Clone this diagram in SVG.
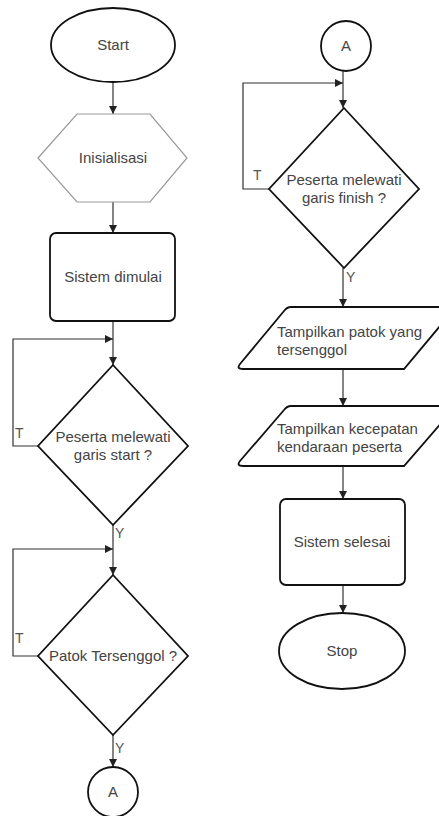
<svg xmlns="http://www.w3.org/2000/svg" width="439" height="816" viewBox="0 0 439 816">
<defs>
<marker id="ah" viewBox="0 0 10 10" refX="10" refY="5" markerWidth="8" markerHeight="8" markerUnits="userSpaceOnUse" orient="auto">
<path d="M0,0 L10,5 L0,10 Z" fill="#222"/>
</marker>
<style>
.sh{fill:#fff;stroke:#111;stroke-width:1.8}
.hx{fill:#fff;stroke:#999;stroke-width:1.2}
.t{font-family:"Liberation Sans",Arial,sans-serif;font-size:15px;fill:#444;text-anchor:middle}
.ts{text-anchor:start}
.lb{font-family:"Liberation Sans",Arial,sans-serif;font-size:14px;fill:#555}
.c{fill:none;stroke:#333;stroke-width:1.2;marker-end:url(#ah)}
</style>
</defs>
<rect width="439" height="816" fill="#fff"/>
<g id="connectors">
<path class="c" d="M113,82 L113,114"/>
<path class="c" d="M113,202 L113,233"/>
<path class="c" d="M113,321 L113,365"/>
<path class="c" d="M38,446 L13,446 L13,339 L113,339"/>
<path class="c" d="M113,525 L113,575"/>
<path class="c" d="M38,656 L13,656 L13,549 L113,549"/>
<path class="c" d="M113,735 L113,767"/>
<path class="c" d="M343,71 L343,108"/>
<path class="c" d="M269,189 L243,189 L243,83 L343,83"/>
<path class="c" d="M343,268 L343,307"/>
<path class="c" d="M343,369 L343,406"/>
<path class="c" d="M343,466 L343,499"/>
<path class="c" d="M343,585 L343,613"/>
<text class="lb" x="15" y="438">T</text>
<text class="lb" x="115" y="538">Y</text>
<text class="lb" x="15" y="643">T</text>
<text class="lb" x="115" y="753">Y</text>
<text class="lb" x="253" y="180">T</text>
<text class="lb" x="346" y="282">Y</text>
</g>
<g id="start">
<ellipse class="sh" cx="113" cy="45" rx="62" ry="37"/>
<text class="t" x="113" y="50">Start</text>
</g>
<g id="inisialisasi">
<polygon class="hx" points="38,158 77,114 150,114 187,158 150,202 77,202"/>
<text class="t" x="113" y="163">Inisialisasi</text>
</g>
<g id="sistem-dimulai">
<rect class="sh" x="50" y="233" width="125" height="88" rx="6"/>
<text class="t" x="113" y="282">Sistem dimulai</text>
</g>
<g id="cek-start">
<polygon class="sh" points="113,365 188,446 113,525 38,446"/>
<text class="t" x="113" y="442">Peserta melewati</text>
<text class="t" x="113" y="460">garis start ?</text>
</g>
<g id="cek-patok">
<polygon class="sh" points="113,575 188,656 113,735 38,656"/>
<text class="t" x="113" y="661">Patok Tersenggol ?</text>
</g>
<g id="konektor-a1">
<circle class="sh" cx="113" cy="792" r="25"/>
<text class="t" x="113" y="797">A</text>
</g>
<g id="konektor-a2">
<circle class="sh" cx="346" cy="46" r="25"/>
<text class="t" x="346" y="51">A</text>
</g>
<g id="cek-finish">
<polygon class="sh" points="344,108 419,189 344,268 269,189"/>
<text class="t" x="344" y="185">Peserta melewati</text>
<text class="t" x="344" y="203">garis finish ?</text>
</g>
<g id="tampil-patok">
<path class="sh" d="M291,307 L456,307 L404,369 L243,369 Q236,369 240,364 L284,311 Q287,307 291,307 Z"/>
<text class="t ts" x="277" y="337">Tampilkan patok yang</text>
<text class="t ts" x="277" y="355">tersenggol</text>
</g>
<g id="tampil-kecepatan">
<path class="sh" d="M291,406 L456,406 L404,466 L243,466 Q236,466 240,461 L284,410 Q287,406 291,406 Z"/>
<text class="t ts" x="277" y="434">Tampilkan kecepatan</text>
<text class="t ts" x="277" y="452">kendaraan peserta</text>
</g>
<g id="sistem-selesai">
<rect class="sh" x="280" y="499" width="125" height="86" rx="6"/>
<text class="t" x="342" y="547">Sistem selesai</text>
</g>
<g id="stop">
<ellipse class="sh" cx="342" cy="651" rx="63" ry="38"/>
<text class="t" x="342" y="656">Stop</text>
</g>
</svg>
